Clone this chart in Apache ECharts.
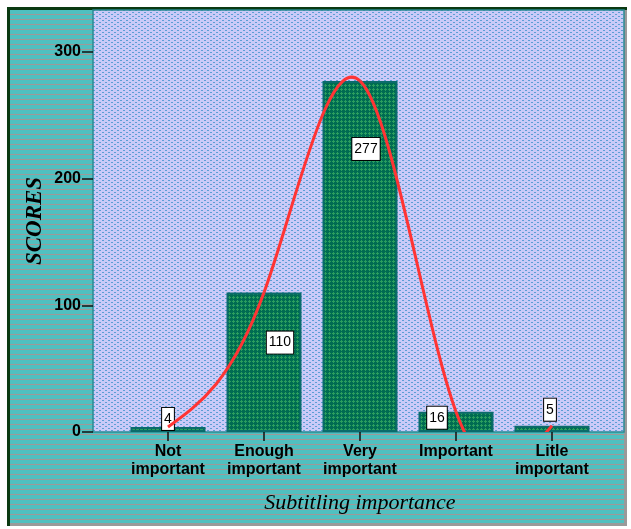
<!DOCTYPE html>
<html><head><meta charset="utf-8">
<script src="https://cdn.jsdelivr.net/npm/echarts@6/dist/echarts.min.js"></script>
<style>html,body{margin:0;padding:0;background:#fff}#c{width:631px;height:529px}</style>
</head><body><div id="c"></div><script>
// ---- data ----
const categories = ['Not\nimportant', 'Enough\nimportant', 'Very\nimportant', 'Important', 'Litle\nimportant'];
const scores = [4, 110, 277, 16, 5];
const yTickValues = [0, 100, 200, 300];
const xTitle = 'Subtitling importance';
const yTitle = 'SCORES';

// label offsets (style only, pixels relative to the bar top)
const labelOffsets = [[0, 3], [16, 61], [6, 79], [-19, 17], [-2, -5]];

// ---- patterns ----
function tile(w, h, bg, fg, pts) {
  const c = document.createElement('canvas'); c.width = w; c.height = h;
  const g = c.getContext('2d'); g.fillStyle = bg; g.fillRect(0, 0, w, h);
  g.fillStyle = fg; pts.forEach(p => g.fillRect(p[0], p[1], p[2] || 1, p[3] || 1));
  return c;
}
const outerTile = tile(4, 5, '#50c0c0', '#a09898', [[0, 4, 4, 1]]);
const plotTile = tile(6, 4, '#cacaf8', '#5c9ed4', [[0, 0, 2, 1], [3, 2, 2, 1]]);
const barTile = tile(4, 4, '#006c52', '#2a9e5e', [[1, 0], [0, 1], [1, 1], [2, 1], [1, 2]]);

// ---- natural cubic spline second derivatives from the scores ----
function splineM(y) {
  const n = y.length, M = new Array(n).fill(0);
  const m = n - 2; if (m <= 0) return M;
  const d = [];
  for (let i = 1; i < n - 1; i++) d.push(6 * (y[i + 1] - 2 * y[i] + y[i - 1]));
  const cp = [], dp = [];
  cp[0] = 1 / 4; dp[0] = d[0] / 4;
  for (let i = 1; i < m; i++) { const den = 4 - cp[i - 1]; cp[i] = 1 / den; dp[i] = (d[i] - dp[i - 1]) / den; }
  const x = []; x[m - 1] = dp[m - 1];
  for (let i = m - 2; i >= 0; i--) x[i] = dp[i] - cp[i] * x[i + 1];
  for (let i = 1; i < n - 1; i++) M[i] = x[i - 1];
  return M;
}
const M = splineM(scores);

const chart = echarts.init(document.getElementById('c'), null, { renderer: 'canvas' });
const yMax = 333;
const font = 'Liberation Sans, Arial, sans-serif';

chart.setOption({
  backgroundColor: '#ffffff',
  animation: false,
  graphic: [
    { type: 'rect', z: -20, shape: { x: 7, y: 7, width: 620, height: 519 }, style: { fill: '#9a9a9a' } },
    { type: 'rect', z: -19, shape: { x: 10, y: 10, width: 614, height: 513 }, style: { fill: { image: outerTile, repeat: 'repeat' } } },
    { type: 'rect', z: -18, shape: { x: 7, y: 7, width: 620, height: 3 }, style: { fill: '#0b3a12' } },
    { type: 'rect', z: -18, shape: { x: 7, y: 7, width: 3, height: 519 }, style: { fill: '#0b3a12' } }
  ],
  grid: [
    { left: 120, right: 31, top: 10, bottom: 97 },
    { left: 93, right: 7, top: 10, bottom: 97, show: true, z: -1,
      backgroundColor: { image: plotTile, repeat: 'repeat' }, borderColor: '#2a8a92', borderWidth: 1.5 }
  ],
  xAxis: [
    { type: 'category', gridIndex: 0, data: categories, boundaryGap: true,
      axisLine: { show: false },
      axisTick: { show: true, alignWithLabel: true, length: 9, inside: false, lineStyle: { color: '#111', width: 1.5 } },
      axisLabel: { color: '#000', fontWeight: 'bold', fontSize: 16, fontFamily: font, lineHeight: 18, margin: 11, interval: 0 },
      name: xTitle, nameLocation: 'middle', nameGap: 60, nameMoveOverlap: false,
      nameTextStyle: { fontFamily: 'Liberation Serif, serif', fontStyle: 'italic', fontSize: 22, color: '#000' } },
    { type: 'value', gridIndex: 1, show: false, min: 0, max: 1 }
  ],
  yAxis: [
    { type: 'value', gridIndex: 0, show: false, min: 0, max: yMax },
    { type: 'value', gridIndex: 1, min: 0, max: yMax, interval: 100,
      axisLine: { show: false }, splitLine: { show: false },
      axisTick: { show: true, length: 11, customValues: yTickValues, lineStyle: { color: '#111', width: 1.5 } },
      axisLabel: { color: '#000', fontWeight: 'bold', fontSize: 16, fontFamily: font, margin: 12,
        customValues: yTickValues, formatter: v => String(v) },
      name: yTitle, nameLocation: 'middle', nameGap: 46, nameRotate: 90, nameMoveOverlap: false,
      nameTextStyle: { fontFamily: 'Liberation Serif, serif', fontStyle: 'italic', fontWeight: 'bold', fontSize: 23, color: '#000' } }
  ],
  series: [
    { type: 'bar', xAxisIndex: 0, yAxisIndex: 0, barWidth: 75, z: 2,
      itemStyle: { color: { image: barTile, repeat: 'repeat' }, borderColor: '#0b6b6b', borderWidth: 2 },
      label: { show: true, position: 'top', distance: 0, color: '#000', fontSize: 14, fontFamily: font,
        backgroundColor: '#fff', borderColor: '#000', borderWidth: 1, padding: [4, 2, 4, 2] },
      data: scores.map((v, i) => ({ value: v, label: { offset: labelOffsets[i] } })) },
    { type: 'custom', xAxisIndex: 0, yAxisIndex: 0, z: 5, clip: true,
      data: scores.map((v, i) => [i, v]),
      renderItem: function (params, api) {
        const i = params.dataIndex;
        if (i >= scores.length - 1) return null;
        const y0 = scores[i], y1 = scores[i + 1];
        const d0 = (y1 - y0) - (2 * M[i] + M[i + 1]) / 6;
        const d1 = (y1 - y0) + (M[i] + 2 * M[i + 1]) / 6;
        const p0 = api.coord([i, y0]), p3 = api.coord([i + 1, y1]);
        const c1y = api.coord([i, y0 + d0 / 3])[1];
        const c2y = api.coord([i + 1, y1 - d1 / 3])[1];
        const dx = p3[0] - p0[0];
        return { type: 'bezierCurve',
          shape: { x1: p0[0], y1: p0[1], x2: p3[0], y2: p3[1], cpx1: p0[0] + dx / 3, cpy1: c1y, cpx2: p3[0] - dx / 3, cpy2: c2y },
          style: { stroke: '#ff3434', lineWidth: 3, fill: null } };
      } }
  ]
});
</script></body></html>
